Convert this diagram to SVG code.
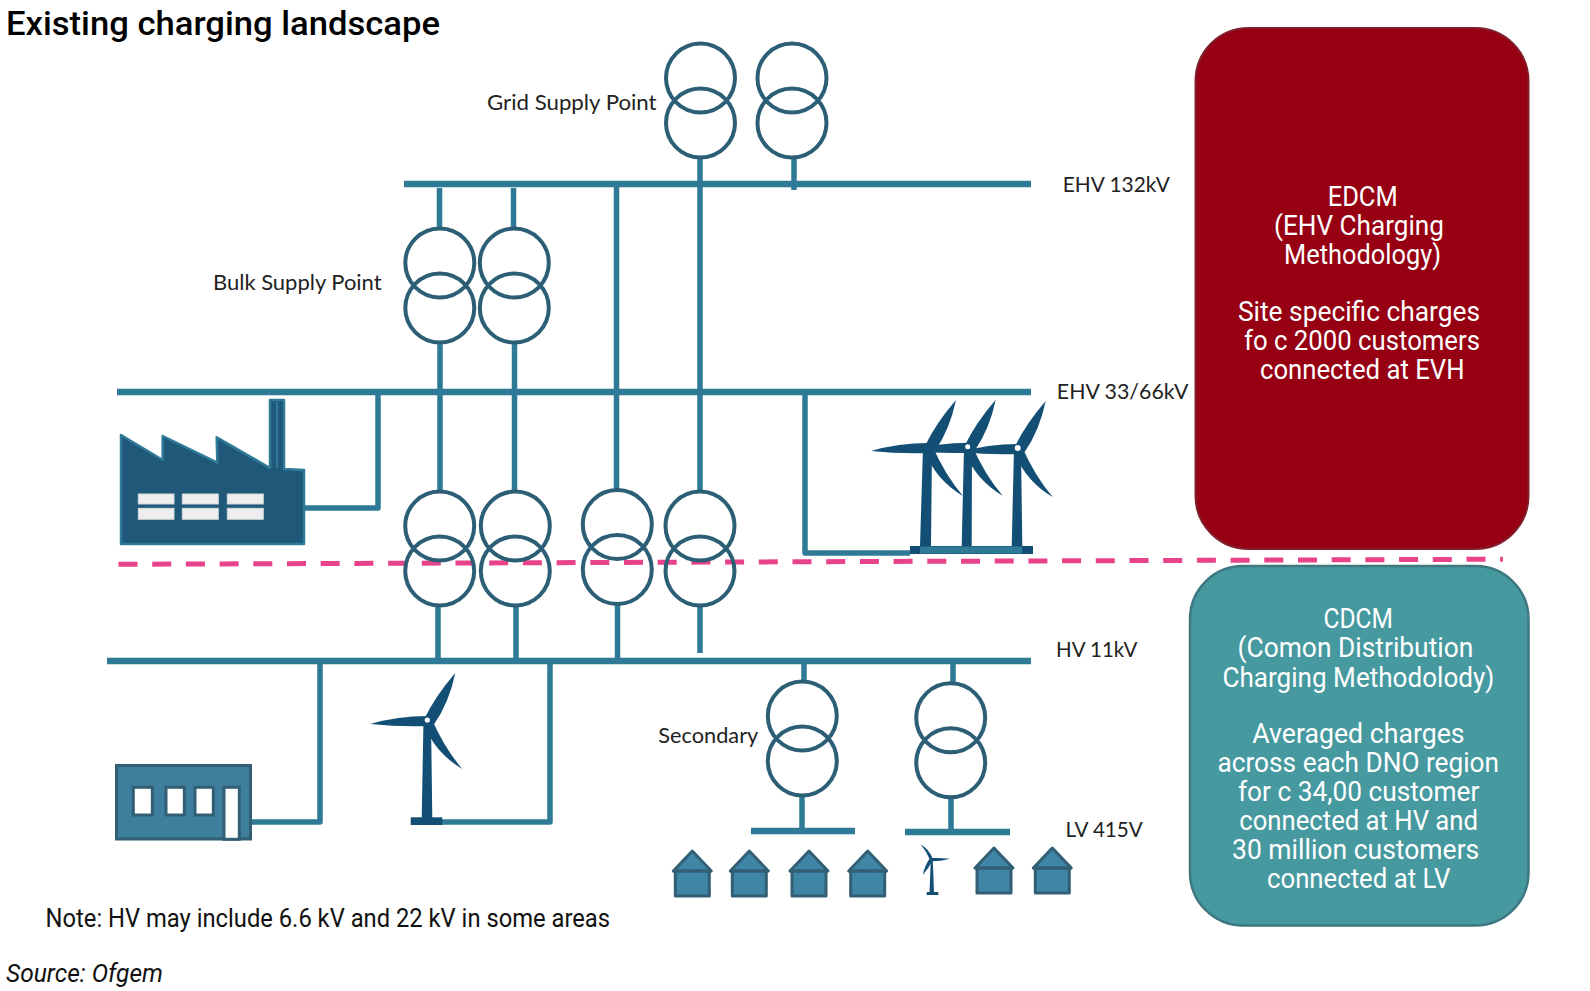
<svg xmlns="http://www.w3.org/2000/svg" xmlns:xlink="http://www.w3.org/1999/xlink" width="1590" height="991" viewBox="0 0 1590 991">
<style>
.bus{stroke:#2f7a96;stroke-width:6.5;fill:none}
.wire{stroke:#2f7a96;stroke-width:5.5;fill:none;stroke-linejoin:round}
.coil{stroke:#2c5f75;stroke-width:4;fill:none}
.dark{fill:#134f74}
.house{fill:#3f85a5;stroke:#335f74;stroke-width:3;stroke-linejoin:round}
.lbl{font-family:Lato,"Liberation Sans",sans-serif;font-size:21px;fill:#222}
.din{font-family:Roboto,"Liberation Sans",sans-serif;font-size:27px;fill:#fff}
.plain{font-family:Roboto,"Liberation Sans",sans-serif;font-size:25px;fill:#111}
.win{fill:#fff;stroke:#335f74;stroke-width:3}
</style>
<defs>
<g id="blades" class="dark">
<path d="M1,-4 Q-30,-4 -57,4 Q-28,7 1,6 Z"/>
<path d="M-3,-1 Q8,-24 28,-47 Q22,-18 7,4 Z"/>
<path d="M4,-2 Q17,28 35,49 Q8,33 -3,5 Z"/>
</g>
<g id="tfm">
<circle class="coil" cx="0" cy="0" r="34.500"/>
<circle class="coil" cx="0" cy="45" r="34.500"/>
</g>
<g id="hs">
<path class="house" d="M-19,20 L0,0 L19,20 L17,20 L17,45 L-17,45 L-17,20 Z"/>
<path d="M-19,20H19" stroke="#335f74" stroke-width="3.500"/>
</g>
</defs>
<rect width="1590" height="991" fill="#fff"/>
<g id="connectors">
<path class="bus" d="M404,184H1031M117,392H1031M107,661H1031M751,831H855M905,832H1010"/>
<path class="wire" d="M700,158V491M794,158V190M616.500,184V490M439.500,188V228M513.500,188V228M440,343V492M514.500,343V492M438,607V661M516,607V661M617.500,605V661M700,607V653M804,661V681M953,661V683M802,796V831M951,798V832M378,392V508H304M805,392V553H910M320,661V822H252M550,661V822H442"/>
<path d="M118.500,564.300L1503,559.200" stroke="#e8438a" stroke-width="5" stroke-dasharray="19 14.700" fill="none"/>
</g>
<g id="gsp-1"><use xlink:href="#tfm" href="#tfm" x="700.500" y="78"/></g>
<g id="gsp-2"><use xlink:href="#tfm" href="#tfm" x="792" y="78"/></g>
<g id="bsp-1"><use xlink:href="#tfm" href="#tfm" x="439.800" y="263"/></g>
<g id="bsp-2"><use xlink:href="#tfm" href="#tfm" x="514.300" y="263"/></g>
<g id="primary-1"><use xlink:href="#tfm" href="#tfm" x="439.700" y="526"/></g>
<g id="primary-2"><use xlink:href="#tfm" href="#tfm" x="515.300" y="526"/></g>
<g id="primary-3"><use xlink:href="#tfm" href="#tfm" x="617.300" y="524.500"/></g>
<g id="primary-4"><use xlink:href="#tfm" href="#tfm" x="700" y="526"/></g>
<g id="secondary-1"><use xlink:href="#tfm" href="#tfm" x="802.300" y="716"/></g>
<g id="secondary-2"><use xlink:href="#tfm" href="#tfm" x="950.700" y="717.700"/></g>
<g id="factory">
<path d="M121,435L162.700,460V436L217.300,462.700L216.700,437.300L270,468V400H284V469L304,470V544H121Z" fill="#1f5878" stroke="#2f7a96" stroke-width="2.500" stroke-linejoin="round"/>
<path d="M277,402V468" stroke="#2f7a96" stroke-width="2"/>
<g fill="#eee" stroke="#cfd6da" stroke-width="1">
<rect x="138.300" y="494" width="35.700" height="10"/><rect x="138.300" y="508.300" width="35.700" height="11"/>
<rect x="182.300" y="494" width="36" height="10"/><rect x="182.300" y="508.300" width="36" height="11"/>
<rect x="227.300" y="494" width="36" height="10"/><rect x="227.300" y="508.300" width="36" height="11"/>
</g>
</g>
<g id="wind-farm">
<path class="dark" d="M923,447H932L931,546H920ZM964,447H972L971.700,546H961.700ZM1014,448H1021L1022.300,546H1011.700Z"/>
<rect class="dark" x="910" y="546" width="123" height="8"/>
<rect x="920" y="546.500" width="102" height="7" fill="#2f7a96"/>
<use xlink:href="#blades" href="#blades" x="928" y="447"/>
<use xlink:href="#blades" href="#blades" x="967.700" y="446.700"/>
<use xlink:href="#blades" href="#blades" x="1017.700" y="448"/>
<circle cx="967.700" cy="446.700" r="2.500" fill="#fff"/><circle cx="1017.700" cy="448" r="3" fill="#fff"/>
</g>
<g id="hv-turbine">
<path class="dark" d="M423.500,720H431L432.300,818H421.700Z"/>
<rect class="dark" x="410.700" y="817.300" width="31.600" height="7.700"/>
<use xlink:href="#blades" href="#blades" x="427.300" y="720"/>
<circle cx="427.300" cy="720" r="2.600" fill="#fff"/>
</g>
<g id="hv-building">
<rect x="116.500" y="765.500" width="134" height="73.500" fill="#3f7f9e" stroke="#335f74" stroke-width="3"/>
<rect class="win" x="133.300" y="787.300" width="19" height="27.700"/>
<rect class="win" x="166" y="787.300" width="18.300" height="27.700"/>
<rect class="win" x="195" y="787.300" width="18.300" height="27.700"/>
<rect class="win" x="224" y="787.300" width="15.300" height="52"/>
</g>
<g id="houses">
<use xlink:href="#hs" href="#hs" x="692.300" y="851"/>
<use xlink:href="#hs" href="#hs" x="749.300" y="851"/>
<use xlink:href="#hs" href="#hs" x="809" y="851"/>
<use xlink:href="#hs" href="#hs" x="867.700" y="851"/>
<use xlink:href="#hs" href="#hs" x="994" y="848"/>
<use xlink:href="#hs" href="#hs" x="1052.300" y="848"/>
</g>
<g id="lv-turbine">
<use xlink:href="#blades" href="#blades" transform="translate(931.700 860) rotate(180) scale(.32)"/>
<path class="dark" d="M930.800,860H932.800L934,893H929.500Z"/>
<rect class="dark" x="926.700" y="892" width="11.600" height="3"/>
</g>
<g id="edcm">
<rect x="1195.500" y="28" width="333" height="521" rx="53" fill="#960012" stroke="#80202e" stroke-width="2"/>
<text class="din" x="1327.700" y="205.500" textLength="70" lengthAdjust="spacingAndGlyphs">EDCM</text>
<text class="din" x="1274" y="234.500" textLength="170" lengthAdjust="spacingAndGlyphs">(EHV Charging</text>
<text class="din" x="1284" y="263.600" textLength="157" lengthAdjust="spacingAndGlyphs">Methodology)</text>
<text class="din" x="1238" y="320.700" textLength="242" lengthAdjust="spacingAndGlyphs">Site specific charges</text>
<text class="din" x="1244" y="349.800" textLength="236" lengthAdjust="spacingAndGlyphs">fo c 2000 customers</text>
<text class="din" x="1260" y="379" textLength="204.500" lengthAdjust="spacingAndGlyphs">connected at EVH</text>
</g>
<g id="cdcm">
<rect x="1190" y="566" width="338.500" height="359.500" rx="53" fill="#46999f" stroke="#3d7880" stroke-width="2.500"/>
<text class="din" x="1323.500" y="628" textLength="69.500" lengthAdjust="spacingAndGlyphs">CDCM</text>
<text class="din" x="1237.500" y="657.300" textLength="235.800" lengthAdjust="spacingAndGlyphs">(Comon Distribution</text>
<text class="din" x="1222.500" y="686.700" textLength="271.900" lengthAdjust="spacingAndGlyphs">Charging Methodolody)</text>
<text class="din" x="1252.300" y="743" textLength="212.300" lengthAdjust="spacingAndGlyphs">Averaged charges</text>
<text class="din" x="1217.500" y="772" textLength="281.500" lengthAdjust="spacingAndGlyphs">across each DNO region</text>
<text class="din" x="1238" y="801" textLength="241.300" lengthAdjust="spacingAndGlyphs">for c 34,00 customer</text>
<text class="din" x="1239.300" y="830" textLength="238.700" lengthAdjust="spacingAndGlyphs">connected at HV and</text>
<text class="din" x="1232" y="859" textLength="247.300" lengthAdjust="spacingAndGlyphs">30 million customers</text>
<text class="din" x="1267" y="888" textLength="183.500" lengthAdjust="spacingAndGlyphs">connected at LV</text>
</g>
<g id="labels">
<text x="6" y="35" textLength="434" lengthAdjust="spacingAndGlyphs" style="font-family:Roboto,'Liberation Sans',sans-serif;font-size:33px;font-weight:500;fill:#000">Existing charging landscape</text>
<text class="lbl" x="487" y="110" textLength="169.600" lengthAdjust="spacingAndGlyphs">Grid Supply Point</text>
<text class="lbl" x="213" y="290" textLength="168.600" lengthAdjust="spacingAndGlyphs">Bulk Supply Point</text>
<text class="lbl" x="1062.800" y="191.600" textLength="107" lengthAdjust="spacingAndGlyphs">EHV 132kV</text>
<text class="lbl" x="1056.800" y="399" textLength="131.600" lengthAdjust="spacingAndGlyphs">EHV 33/66kV</text>
<text class="lbl" x="1056" y="656.700" textLength="81.500" lengthAdjust="spacingAndGlyphs">HV 11kV</text>
<text class="lbl" x="1065.600" y="837.300" textLength="77.200" lengthAdjust="spacingAndGlyphs">LV 415V</text>
<text class="lbl" x="658.300" y="743.300" textLength="100" lengthAdjust="spacingAndGlyphs">Secondary</text>
<text class="plain" x="45.600" y="926.700" textLength="564.400" lengthAdjust="spacingAndGlyphs">Note: HV may include 6.6 kV and 22 kV in some areas</text>
<text class="plain" x="6" y="981.700" textLength="157" lengthAdjust="spacingAndGlyphs" font-style="italic">Source: Ofgem</text>
</g>
</svg>
